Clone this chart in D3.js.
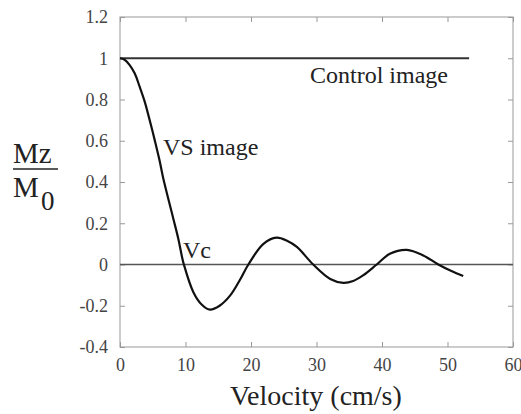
<!DOCTYPE html>
<html>
<head>
<meta charset="utf-8">
<script src="https://cdn.jsdelivr.net/npm/d3@7"></script>
<style>
  body { margin: 0; background: #fff; }
  svg text { font-family: "Liberation Serif", "Times New Roman", Times, "Noto Serif", "DejaVu Serif", serif; }
</style>
</head>
<body>
<svg id="chart" width="521" height="414"></svg>
<script>
// values
const velocity = [0, 0.7, 1.48, 2.24, 3.0, 3.77, 4.53, 5.3, 6.0, 6.61, 7.37, 8.14, 8.9, 9.42, 9.75, 11.2, 12.5, 13.74, 15.2, 16.8, 18.3, 19.6,
  21.9, 23.9, 25.5, 27.0, 29.5, 32.1, 34.1, 35.6, 37.1, 39.2, 41.2, 43.8, 46.3, 48.6, 50.6, 52.4];
const vsImage = [1.0, 0.993, 0.967, 0.927, 0.862, 0.790, 0.700, 0.603, 0.51, 0.417, 0.319, 0.222, 0.125, 0.044, 0, -0.134, -0.195, -0.219, -0.200, -0.151, -0.075, 0,
  0.10, 0.13, 0.115, 0.085, 0, -0.07, -0.089, -0.080, -0.053, 0, 0.052, 0.071, 0.044, 0, -0.032, -0.056];
const controlX = [0, 53.3];
const controlY = [1, 1];
const zeroX = [0, 60];
const xTicks = [0, 10, 20, 30, 40, 50, 60];
const yTicks = [-0.4, -0.2, 0, 0.2, 0.4, 0.6, 0.8, 1, 1.2];

const svg = d3.select('#chart');
const mLeft = 120, mRight = 513, mTop = 17, mBottom = 347;
const serif = '"Liberation Serif", "Times New Roman", Times, "Noto Serif", "DejaVu Serif", serif';

const x = d3.scaleLinear().domain([0, 60]).range([mLeft, mRight]);
const y = d3.scaleLinear().domain([-0.4, 1.2]).range([mBottom, mTop]);

// frame
svg.append('rect')
  .attr('x', mLeft).attr('y', mTop)
  .attr('width', mRight - mLeft).attr('height', mBottom - mTop)
  .attr('fill', 'none').attr('stroke', '#aaa').attr('stroke-width', 1.2);

// axes with inward ticks
function styleAxis(g) {
  g.attr('font-family', serif);
  g.select('.domain').remove();
  g.selectAll('.tick line').attr('stroke', '#999').attr('stroke-width', 1);
  g.selectAll('.tick text')
    .attr('fill', '#444')
    .style('font-size', '18px')
    .style('font-family', serif);
}

svg.append('g')
  .attr('transform', `translate(0,${mBottom})`)
  .call(d3.axisBottom(x).tickValues(xTicks).tickSize(-5).tickPadding(11).tickFormat(d => String(d)))
  .call(styleAxis);

svg.append('g')
  .attr('transform', `translate(0,${mTop})`)
  .call(d3.axisTop(x).tickValues(xTicks).tickSize(-5).tickFormat(''))
  .call(styleAxis);

svg.append('g')
  .attr('transform', `translate(${mLeft},0)`)
  .call(d3.axisLeft(y).tickValues(yTicks).tickSize(-5).tickPadding(12).tickFormat(d => String(d)))
  .call(styleAxis);

svg.append('g')
  .attr('transform', `translate(${mRight},0)`)
  .call(d3.axisRight(y).tickValues(yTicks).tickSize(-5).tickFormat(''))
  .call(styleAxis);

// zero line and control line
svg.append('line')
  .attr('x1', x(zeroX[0])).attr('x2', x(zeroX[1]))
  .attr('y1', y(0)).attr('y2', y(0))
  .attr('stroke', '#555').attr('stroke-width', 1.5);

svg.append('line')
  .attr('x1', x(controlX[0])).attr('x2', x(controlX[1]))
  .attr('y1', y(controlY[0])).attr('y2', y(controlY[1]))
  .attr('stroke', '#333').attr('stroke-width', 1.8);

// VS image curve
const line = d3.line()
  .x((d, i) => x(velocity[i]))
  .y(d => y(d))
  .curve(d3.curveCatmullRom);

svg.append('path')
  .datum(vsImage)
  .attr('d', line)
  .attr('fill', 'none')
  .attr('stroke', '#111')
  .attr('stroke-width', 2.2);

// annotations
const note = (tx, ty, s, size) => svg.append('text')
  .attr('x', tx).attr('y', ty)
  .attr('fill', '#222')
  .style('font-family', serif)
  .style('font-size', size + 'px')
  .text(s);

note(310, 83, 'Control image', 24);
note(163, 155, 'VS image', 24);
note(183, 258, 'Vc', 24);
note(230, 405, 'Velocity (cm/s)', 28);

// y label as fraction Mz / M0
note(13, 163, 'Mz', 29);
svg.append('line')
  .attr('x1', 13).attr('x2', 58)
  .attr('y1', 169).attr('y2', 169)
  .attr('stroke', '#222').attr('stroke-width', 1.6);
note(13, 197, 'M', 29);
note(41, 210, '0', 27);
</script>
</body>
</html>
